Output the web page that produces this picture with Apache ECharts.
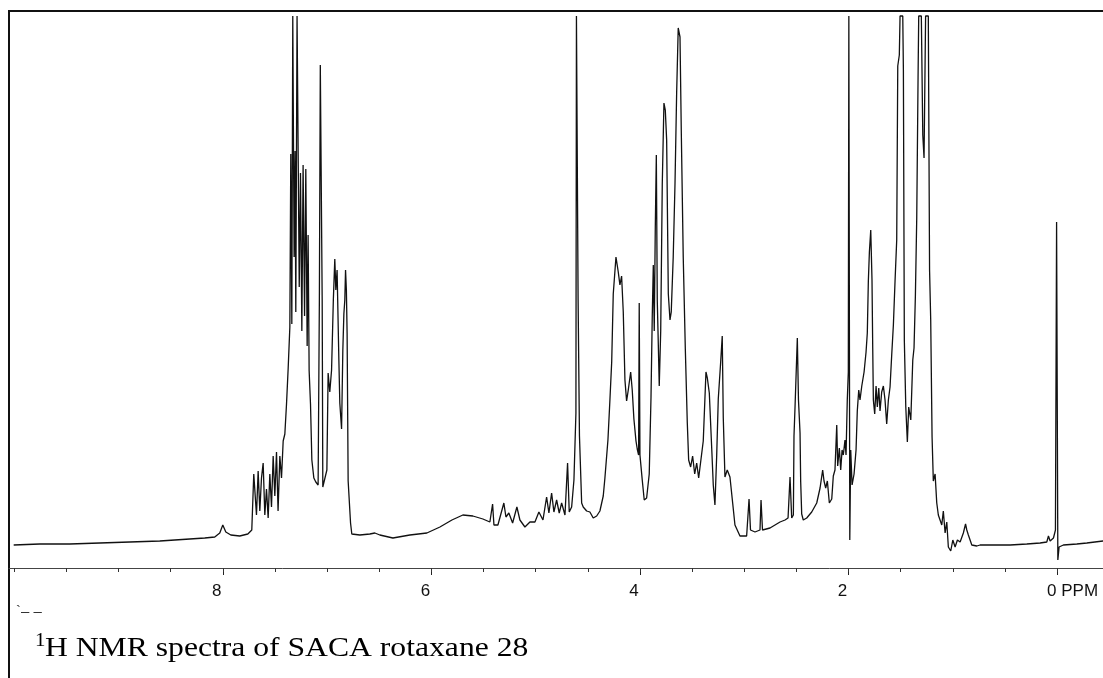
<!DOCTYPE html>
<html>
<head>
<meta charset="utf-8">
<script src="https://cdn.jsdelivr.net/npm/echarts@6/dist/echarts.min.js"></script>
<style>
html,body{margin:0;padding:0;background:#fff;}
#c{width:1103px;height:678px;}
</style>
</head>
<body>
<div id="c"></div>
<script>
// Chemical shift (ppm), left to right
const ppm = [
10.005, 9.755, 9.468, 9.180, 8.892, 8.604, 8.317, 8.173, 8.077, 8.029, 8.000, 7.971, 7.923, 7.837, 7.760, 7.722,
7.703, 7.677, 7.661, 7.645, 7.629, 7.613, 7.597, 7.581, 7.565, 7.549, 7.533, 7.517, 7.501, 7.485, 7.470, 7.453, 7.437, 7.421, 7.405, 7.389, 7.373, 7.357,
7.348, 7.338, 7.329, 7.323, 7.316, 7.307, 7.300, 7.288, 7.273, 7.267, 7.255, 7.242, 7.230, 7.216, 7.204, 7.191, 7.182, 7.172, 7.159, 7.146, 7.127, 7.108, 7.086, 7.074, 7.065, 7.057, 7.047, 7.041, 7.022, 7.002, 6.990, 6.974, 6.957, 6.940, 6.926, 6.916, 6.904, 6.887, 6.878, 6.861, 6.849, 6.839, 6.830, 6.823, 6.815, 6.808, 6.798, 6.775, 6.763,
6.686, 6.590, 6.542, 6.494, 6.369, 6.206, 6.043, 5.918, 5.803, 5.698, 5.602, 5.506, 5.439, 5.413, 5.400, 5.362, 5.305, 5.285, 5.257, 5.221, 5.180, 5.151, 5.103, 5.055, 5.007, 4.969, 4.930, 4.895, 4.873, 4.847, 4.825, 4.799, 4.774, 4.751, 4.719, 4.694, 4.678, 4.655, 4.633, 4.614, 4.609, 4.601, 4.593, 4.580, 4.559, 4.544, 4.511, 4.480, 4.448, 4.415, 4.384, 4.352,
4.336, 4.307, 4.288, 4.271, 4.256, 4.230, 4.208, 4.192, 4.176, 4.160, 4.144, 4.128, 4.112, 4.089, 4.074, 4.058, 4.038, 4.026, 4.013, 4.007, 4.000, 3.978, 3.959, 3.936, 3.911, 3.894, 3.882, 3.872, 3.863, 3.853, 3.843, 3.834, 3.827, 3.815, 3.801, 3.786, 3.770, 3.757, 3.744, 3.728, 3.712, 3.700, 3.681, 3.664, 3.648, 3.633, 3.616, 3.604, 3.585, 3.565, 3.546, 3.533, 3.514, 3.495, 3.475, 3.456, 3.437, 3.418, 3.393, 3.367, 3.354, 3.335, 3.312, 3.297, 3.281, 3.264, 3.249, 3.226, 3.211, 3.201, 3.185, 3.163, 3.137, 3.111, 3.089, 3.041, 2.977, 2.954, 2.940, 2.897, 2.849, 2.839, 2.825, 2.753, 2.657, 2.609, 2.580, 2.561, 2.545, 2.529, 2.523, 2.513, 2.491, 2.480, 2.465, 2.459, 2.449, 2.434, 2.401, 2.353, 2.305, 2.273, 2.248, 2.235, 2.219, 2.203, 2.184, 2.161, 2.146, 2.130, 2.113, 2.104, 2.088, 2.075, 2.062, 2.050, 2.034, 2.024, 2.012, 2.002, 1.997, 1.992, 1.988, 1.979, 1.966, 1.947, 1.928, 1.916, 1.902, 1.890, 1.873, 1.851, 1.832, 1.820, 1.810, 1.800, 1.787, 1.775, 1.768, 1.762, 1.749, 1.736, 1.724, 1.710, 1.698, 1.682, 1.666, 1.650, 1.634, 1.618, 1.602, 1.586, 1.570, 1.554, 1.538, 1.528, 1.513, 1.506, 1.480, 1.474, 1.465, 1.451, 1.436, 1.423, 1.403, 1.384, 1.372, 1.359, 1.346, 1.333, 1.327, 1.302, 1.288, 1.276, 1.261, 1.235, 1.223, 1.212, 1.199, 1.187, 1.170, 1.154, 1.139, 1.122, 1.106, 1.091, 1.074, 1.058, 1.043, 1.020, 1.000, 0.978, 0.956, 0.930, 0.899, 0.878, 0.866, 0.851, 0.818, 0.770, 0.739, 0.611, 0.451, 0.291, 0.163, 0.099, 0.083, 0.067, 0.035, 0.016, 0.005, -0.002, -0.007, -0.019, -0.060, -0.189, -0.285, -0.441
];
// Signal intensity (arbitrary units)
const intensity = [
23, 24, 24, 25, 26, 27, 29, 30, 31, 35, 43, 36, 33, 32, 34, 38,
94, 53, 97, 57, 90, 105, 53, 79, 50, 94, 61, 112, 72, 116, 57, 112, 90, 127, 134, 164, 200, 241,
414, 244, 552, 552, 311, 417, 256, 552, 552, 281, 395, 237, 403, 252, 399, 222, 333, 197, 164, 108, 90, 86, 83, 268, 503, 503, 268, 81, 79, 98, 195, 176, 198, 268, 309, 278, 298, 208, 165, 139, 218, 254, 268, 298, 278, 235, 87, 45, 34,
33, 34, 35, 33, 30, 33, 35, 41, 48, 53, 52, 49, 46, 64, 43, 43, 65, 51, 55, 45, 61, 48, 41, 46, 46, 56, 48, 71, 55, 75, 56, 68, 55, 65, 53, 105, 56, 61, 88, 155, 552, 552, 268, 132, 65, 61, 57, 56, 50, 52, 57, 72,
90, 128, 168, 206, 274, 311, 296, 283, 292, 256, 188, 167, 178, 196, 178, 149, 127, 119, 113, 265, 113, 88, 68, 70, 94, 171, 252, 303, 237, 340, 413, 268, 237, 182, 237, 384, 465, 458, 428, 274, 248, 256, 311, 384, 476, 540, 531, 439, 311, 219, 145, 108, 101, 112, 94, 105, 90, 90, 127, 196, 190, 175, 120, 83, 63, 113, 169, 206, 232, 150, 91, 98, 91, 65, 43, 32, 32, 69, 38, 36, 38, 68, 38, 40, 46, 48, 50, 91, 50, 53, 132, 161, 230, 168, 135, 87, 54, 48, 50, 56, 65, 80, 98, 87, 80, 87, 65, 69, 92, 98, 143, 102, 120, 98, 118, 113, 128, 113, 168, 196, 552, 552, 28, 118, 83, 94, 118, 157, 178, 168, 182, 196, 216, 235, 287, 316, 338, 288, 220, 168, 154, 182, 161, 180, 157, 176, 182, 168, 144, 168, 181, 213, 243, 287, 328, 502, 513, 552, 552, 498, 228, 161, 126, 161, 148, 208, 220, 272, 350, 494, 552, 552, 433, 410, 552, 552, 298, 248, 131, 87, 94, 65, 53, 52, 43, 57, 35, 46, 21, 17, 28, 21, 28, 26, 35, 44, 38, 33, 23, 22, 23, 23, 23, 24, 25, 26, 32, 27, 30, 38, 346, 346, 8, 21, 23, 24, 25, 27
];
// Axis ticks
const majorTicks = [0, 2, 4, 6, 8];
const minorTicks = [0, 0.5, 1, 1.5, 2, 2.5, 3, 3.5, 4, 4.5, 5, 5.5, 6, 6.5, 7, 7.5, 8, 8.5, 9, 9.5, 10];
const unitLabel = 'PPM';
const captionSup = '1';
const captionMain = 'H NMR spectra of SACA rotaxane 28';

const n = Math.min(ppm.length, intensity.length);
const data = [];
for (let i = 0; i < n; i++) data.push([ppm[i], intensity[i]]);

const X_MIN = -0.44, X_MAX = 10.05;
const chart = echarts.init(document.getElementById('c'), null, {renderer: 'canvas'});
chart.setOption({
  animation: false,
  backgroundColor: '#ffffff',
  grid: {left: 9, right: 0, top: 15, bottom: 110},
  xAxis: [{
    type: 'value', inverse: true, min: X_MIN, max: X_MAX, position: 'bottom',
    axisLine: {show: true, lineStyle: {color: '#444', width: 1}},
    splitLine: {show: false},
    axisTick: {show: true, customValues: majorTicks, length: 7, lineStyle: {color: '#222', width: 1}},
    axisLabel: {
      show: true, customValues: majorTicks, margin: 15,
      formatter: function (v) { return v === 0 ? '{z|0 ' + unitLabel + '}' : '{n|' + v + '}'; },
      rich: {
        n: {fontFamily: 'Liberation Sans', fontSize: 17, color: '#111', padding: [0, 12, 0, 0]},
        z: {fontFamily: 'Liberation Sans', fontSize: 17, color: '#111', padding: [0, 0, 0, 31]}
      }
    }
  }, {
    type: 'value', inverse: true, min: X_MIN, max: X_MAX, position: 'bottom',
    axisLine: {show: false},
    splitLine: {show: false},
    axisTick: {show: true, customValues: minorTicks, length: 4, lineStyle: {color: '#333', width: 1}},
    axisLabel: {show: false}
  }],
  yAxis: {type: 'value', min: 0, max: 553, show: false},
  series: [{
    type: 'line', xAxisIndex: 0, yAxisIndex: 0, data: data,
    showSymbol: false, symbol: 'none', clip: true,
    lineStyle: {color: '#111', width: 1.3}
  }],
  graphic: [
    {type: 'line', shape: {x1: 8, y1: 11, x2: 1103, y2: 11}, style: {stroke: '#111', lineWidth: 2}},
    {type: 'line', shape: {x1: 9, y1: 10, x2: 9, y2: 678}, style: {stroke: '#111', lineWidth: 2}},
    {type: 'text', x: 16, y: 612, style: {text: '`\u2013 \u2013', fontFamily: 'Liberation Sans', fontSize: 15, fill: '#333', align: 'left', verticalAlign: 'middle'}},
    {type: 'text', x: 35, y: 641.5, scaleX: 1.1, style: {text: captionSup, fontFamily: 'Liberation Serif', fontSize: 19, fill: '#000', align: 'left', verticalAlign: 'middle'}},
    {type: 'text', x: 45, y: 648.5, scaleX: 1.13, style: {text: captionMain, fontFamily: 'Liberation Serif', fontSize: 28, fill: '#000', align: 'left', verticalAlign: 'middle'}}
  ]
});
</script>
</body>
</html>
